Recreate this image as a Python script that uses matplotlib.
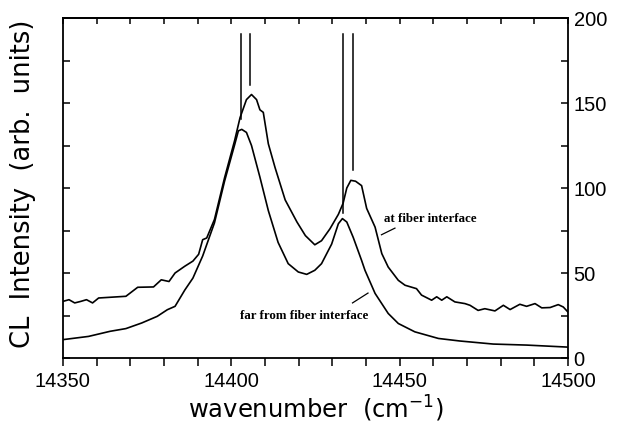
import numpy as np
import matplotlib
matplotlib.use("Agg")
import matplotlib.pyplot as plt
from matplotlib.ticker import MultipleLocator

# spectrum at the fiber interface (upper trace)
wn_at = [14350, 14351.8, 14353.5, 14355.3, 14357, 14358.8, 14360.6, 14368.7, 14372.2,
         14376.9, 14379.2, 14381.5, 14383.3, 14386.2, 14388.6, 14390.3, 14391.5, 14392.7,
         14395, 14398, 14401, 14402.6, 14404.5, 14406, 14407.5, 14408.5, 14409.5,
         14411, 14413, 14416, 14419.5, 14422, 14424.8, 14426.8, 14429.3,
         14431.8, 14433.2, 14434.3, 14435.5, 14436.9, 14438.7, 14440.2, 14442.7, 14444.7,
         14446.6, 14449.6, 14451.6, 14455, 14456.5, 14459.5, 14461, 14462.5, 14464,
         14466.4, 14469.4, 14470.9, 14473.3, 14475.3, 14478.3, 14480.8, 14482.8,
         14485.7, 14487.7, 14490.2, 14492.2, 14494.7, 14497.1, 14498.6, 14500]
cl_at = [33.3, 34.3, 32.4, 33.3, 34.3, 32.4, 35.3, 36.3, 41.6,
         41.8, 46, 45, 50, 54, 57, 61, 69.6, 70.6,
         81.5, 106, 128, 141.4, 152, 155, 152, 146, 144.5,
         126, 112, 93, 80, 72, 66.6, 69, 76,
         84.5, 91, 100, 104.5, 104, 101.4, 88, 77, 61.4,
         53.5, 45.7, 42.8, 40.8, 37, 34, 36, 34, 36,
         33, 32, 31, 28, 29, 27.7, 31, 28.5,
         31.6, 30.4, 32, 29.5, 29.7, 31.4, 30, 27]

# spectrum far from the fiber interface (lower trace)
wn_far = [14350, 14357.6, 14364, 14368.7, 14373.4, 14378, 14381, 14383.3, 14386.2,
          14388.6, 14391.5, 14395, 14398, 14401, 14402.1, 14403.1, 14404.5,
          14406, 14408.5, 14411, 14413.9, 14416.9, 14419.9, 14422.4, 14424.8,
          14426.8, 14429.8, 14431.8, 14433, 14434.3, 14436.2, 14438.7, 14439.7,
          14442.7, 14446.6, 14449.6, 14454.5, 14461.5, 14467.9, 14477.8, 14487.7,
          14500]
cl_far = [10.8, 12.7, 15.7, 17.3, 20.6, 24.5, 28.4, 30.4, 40,
          47, 60, 79.5, 104, 125.5, 133.6, 134.5, 132.7,
          125, 106.4, 86.7, 68, 55.5, 50.6, 49.2, 51.6,
          55.5, 67, 79, 82, 80, 71, 57.4, 51.6,
          38, 26.2, 20.3, 15.4, 11.5, 10, 8.2, 7.6,
          6.4]

# peak marker lines: position, lower end
marker_wn = [14402.8, 14405.6, 14433.1, 14436.2]
marker_low = [140.5, 160.5, 85.5, 110.5]
marker_top = 190.5

fig = plt.figure(figsize=(6.17, 4.29), dpi=100)
ax = fig.add_axes([0.102, 0.1655, 0.8186, 0.7925])

ax.plot(wn_at, cl_at, color="black", lw=1.2)
ax.plot(wn_far, cl_far, color="black", lw=1.2)
for w, lo in zip(marker_wn, marker_low):
    ax.plot([w, w], [lo, marker_top], color="black", lw=1.1)

# labels with leader lines
ax.text(14445.3, 81.5, "at fiber interface", family="Liberation Serif",
        weight="bold", fontsize=9.3, va="center", ha="left")
ax.plot([14444.6, 14448.6], [72.5, 76.4], color="black", lw=0.9)
ax.text(14402.6, 24.5, "far from fiber interface", family="Liberation Serif",
        weight="bold", fontsize=9.3, va="center", ha="left")
ax.plot([14436, 14440.6], [32.4, 38.2], color="black", lw=0.9)

ax.set_xlim(14350, 14500)
ax.set_ylim(0, 200)
ax.xaxis.set_major_locator(MultipleLocator(50))
ax.xaxis.set_minor_locator(MultipleLocator(10))
ax.yaxis.set_major_locator(MultipleLocator(50))
ax.yaxis.set_minor_locator(MultipleLocator(25))

ax.tick_params(axis="x", which="both", direction="out", length=6, width=1.1,
               top=False, labelsize=14.5, pad=4)
ax.tick_params(axis="y", which="both", direction="in", length=5, width=1.1,
               left=True, right=True, labelleft=False, labelright=True,
               labelsize=14.5, pad=4)
for lab in ax.get_xticklabels() + ax.get_yticklabels():
    lab.set_family("Liberation Sans")

top = ax.secondary_xaxis("top")
top.xaxis.set_major_locator(MultipleLocator(10))
top.tick_params(direction="in", length=4, width=1.1, labeltop=False)
top.spines["top"].set_linewidth(1.3)

for s in ax.spines.values():
    s.set_linewidth(1.3)

ax.set_xlabel("wavenumber  (cm$^{-1}$)", fontsize=17.5, labelpad=2)
fig.text(0.037, 0.572, "CL  Intensity  (arb.  units)", rotation=90,
         fontsize=18.5, ha="center", va="center")

fig.savefig("out.png", dpi=100)
